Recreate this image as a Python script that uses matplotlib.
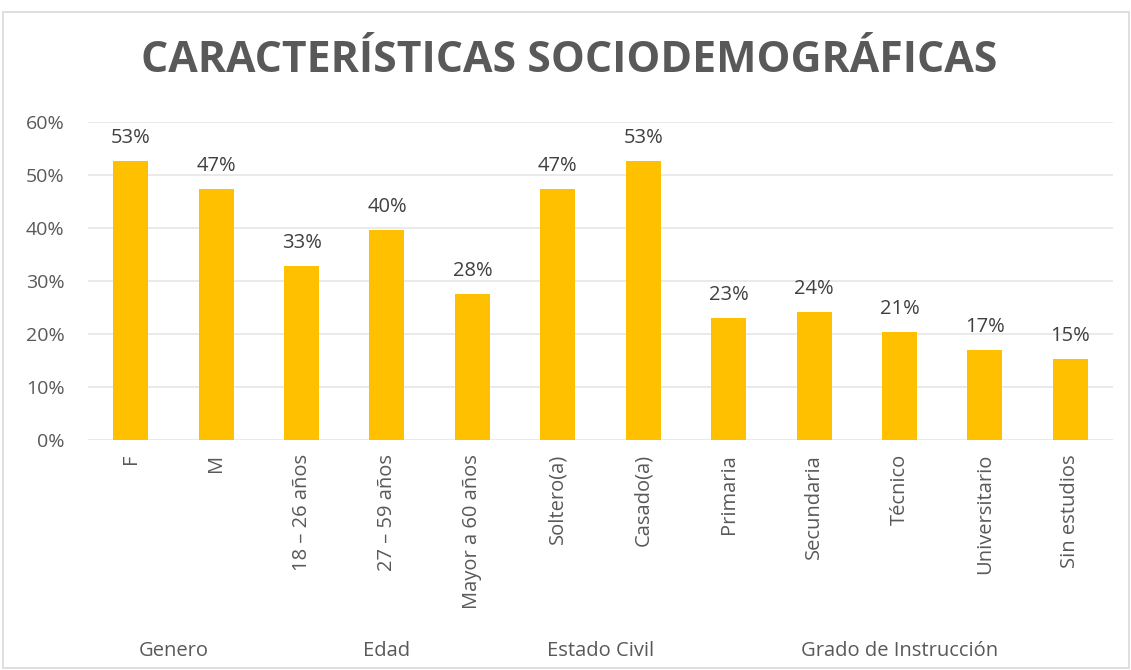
import matplotlib
matplotlib.use("Agg")
import matplotlib.pyplot as plt
from matplotlib.patches import Rectangle

categories = ["F", "M", "18 – 26 años", "27 – 59 años", "Mayor a 60 años",
              "Soltero(a)", "Casado(a)", "Primaria", "Secundaria", "Técnico",
              "Universitario", "Sin estudios"]
values = [52.6, 47.4, 32.8, 39.7, 27.6, 47.4, 52.6, 23.1, 24.1, 20.4, 17.0, 15.3]
labels = ["53%", "47%", "33%", "40%", "28%", "47%", "53%", "23%", "24%", "21%", "17%", "15%"]
groups = ["Genero", "Edad", "Estado Civil", "Grado de Instrucción"]
group_sizes = [2, 3, 2, 5]
yticks = [0, 10, 20, 30, 40, 50, 60]
title = "CARACTERÍSTICAS SOCIODEMOGRÁFICAS"

plt.rcParams['font.family'] = ['Open Sans', 'DejaVu Sans']
txt = "#595959"
bar_color = "#FFC000"

W, H = 1131, 670
fig = plt.figure(figsize=(W / 100, H / 100), dpi=100)
fig.patch.set_facecolor("white")
fig.add_artist(Rectangle((3 / W, 2 / H), 1 - 5 / W, 1 - 14 / H, transform=fig.transFigure,
                         fill=False, edgecolor="#d9d9d9", linewidth=1.2))

ax = fig.add_axes([88 / W, (H - 440) / H, (1113 - 88) / W, (440 - 122) / H])
x = list(range(len(categories)))
ax.bar(x, values, width=0.41, color=bar_color, zorder=3)
ax.set_xlim(-0.5, len(categories) - 0.5)
ax.set_ylim(0, 60)
ax.set_yticks(yticks)
ax.set_yticklabels([f"{v}%" for v in yticks], color=txt, fontsize=14)
ax.yaxis.grid(True, color="#e8e8e8", linewidth=1.3, zorder=0)
ax.tick_params(axis="y", length=0, pad=17)
ax.tick_params(axis="x", length=0, pad=10)
ax.set_xticks(x)
ax.set_xticklabels(categories, rotation=90, color=txt, fontsize=14.5, va="top")
for s in ax.spines.values():
    s.set_visible(False)

for xi, v, lab in zip(x, values, labels):
    ax.annotate(lab, (xi, v), xytext=(0, 13), textcoords="offset points",
                ha="center", va="baseline", color="#404040", fontsize=14.5)

trans = matplotlib.transforms.blended_transform_factory(ax.transData, fig.transFigure)
start = 0
for g, n in zip(groups, group_sizes):
    center = start + (n - 1) / 2
    ax.text(center, (H - 651) / H, g, transform=trans, ha="center", va="center",
            color=txt, fontsize=14.5)
    start += n

ttl = fig.text(0.5 * (142 + 997) / W, (H - 61) / H, title, ha="center", va="center",
               fontsize=30, fontweight="bold", color=txt)
fig.canvas.draw()
bb = ttl.get_window_extent()
ttl.set_fontsize(30 * 855 / bb.width)

fig.savefig("out.png", dpi=100, facecolor="white")
